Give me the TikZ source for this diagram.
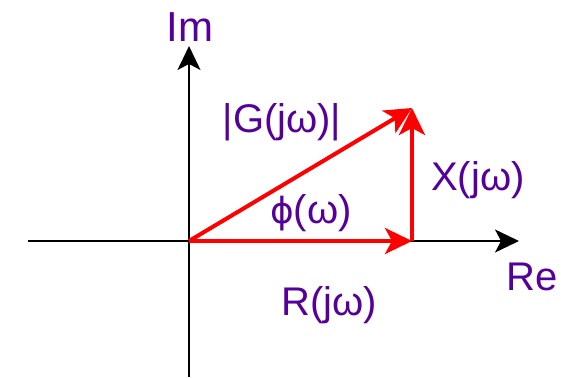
\documentclass[tikz,border=0pt]{standalone}
\usepackage{fontspec}
\setmainfont{Liberation Sans}
\newfontfamily\dvfont{DejaVu Sans}
\usetikzlibrary{arrows.meta}
\definecolor{lblpurple}{RGB}{85,0,155}
\begin{document}
\begin{tikzpicture}[x=1pt,y=-1pt,
  axis/.style={line width=1.8pt,black,-{Stealth[length=24pt,width=23pt,inset=6pt]}},
  vec/.style={line width=4pt,red,-{Stealth[length=27pt,width=26pt,inset=7pt]}},
  lbl/.style={text=lblpurple,font=\fontsize{40}{44}\selectfont,inner sep=0pt,anchor=center}]
\useasboundingbox (0,0) rectangle (569,377);
\coordinate (O) at (189,241);
\coordinate (xl) at (28,241);
\coordinate (xr) at (519,241);
\coordinate (yb) at (189,377);
\coordinate (yt) at (189,46);
\coordinate (P) at (412,108);
\coordinate (Q) at (412,241);
\draw[axis] (xl) -- (xr);
\draw[axis] (yb) -- (yt);
\draw[vec] (O) -- (Q);
\draw[vec] (Q) -- (P);
\draw[vec] (O) -- (P);
\node[lbl] (im) at (190,27) {\fontsize{42}{46}\selectfont Im};
\node[lbl] (re) at (532,277) {Re};
\node[lbl] (g) at (282,122) {|G(jω)|};
\node[lbl] (x) at (478,180) {X(jω)};
\node[lbl] (phi) at (311,213) {{\dvfont\fontsize{36}{40}\selectfont ϕ}(ω)};
\node[lbl] (r) at (329,305) {R(jω)};
\end{tikzpicture}
\end{document}
